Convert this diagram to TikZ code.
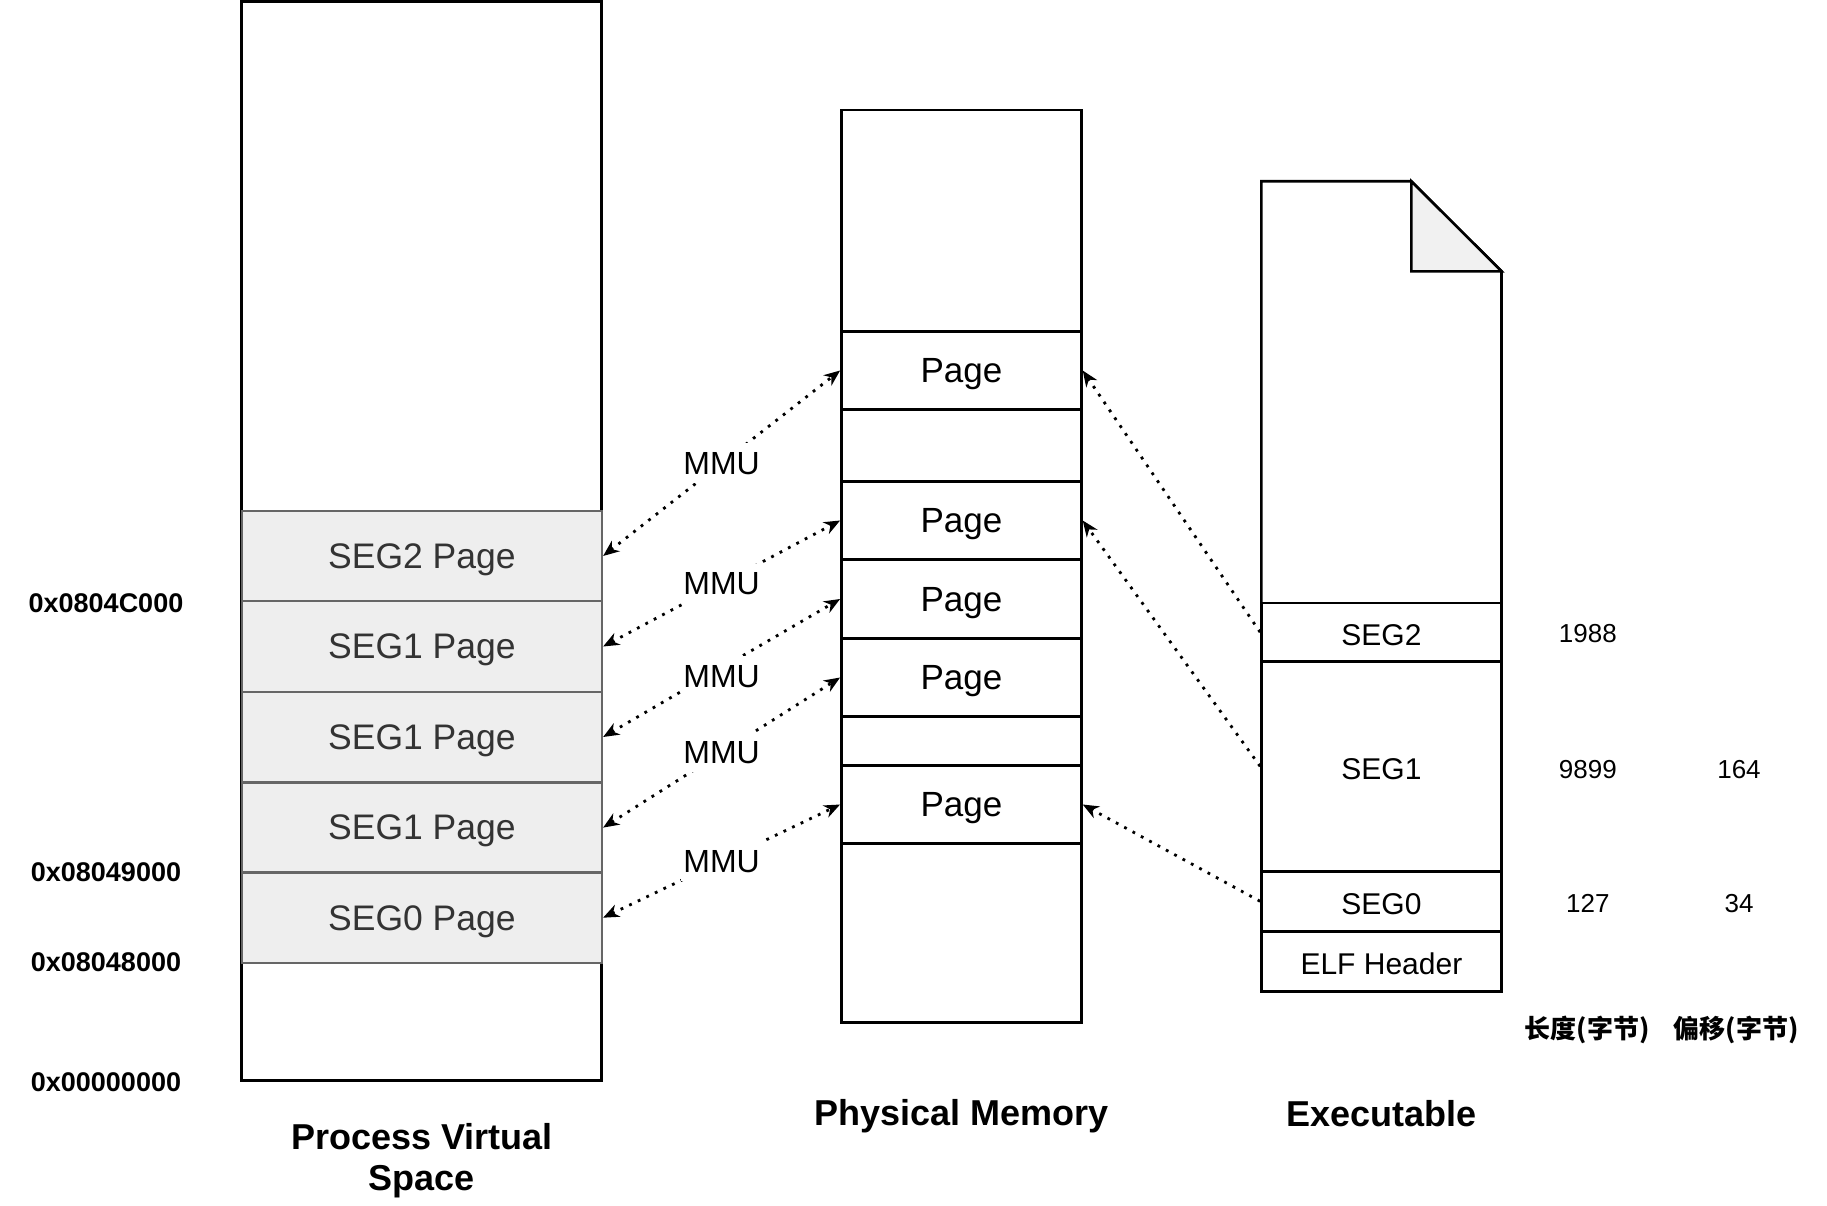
\documentclass[tikz,border=0pt]{standalone}
\usepackage{fontspec}
\setsansfont{Liberation Sans}
\newfontfamily\cjkfont{Noto Sans CJK SC}
\usetikzlibrary{arrows.meta}

\definecolor{vpageFill}{HTML}{EEEEEE}
\definecolor{vpageLine}{HTML}{666666}
\definecolor{vpageText}{HTML}{333333}
\definecolor{foldFill}{HTML}{F1F1F1}

\begin{document}
\begin{tikzpicture}[x=1pt, y=-1pt, font=\sffamily,
  >={Stealth[length=16pt, width=13pt, inset=5pt]},
  box/.style={draw, line width=2.6pt, inner sep=0pt, minimum width=240pt},
  vpage/.style={draw=vpageLine, fill=vpageFill, text=vpageText, line width=2.4pt, inner sep=0pt,
    minimum width=360pt, minimum height=90.5pt, font=\sffamily\fontsize{35.5}{42}\selectfont,
    text height=32.1pt, text depth=7.5pt},
  ppage/.style={box, minimum height=78.5pt, font=\sffamily\fontsize{35}{42}\selectfont,
    text height=31.7pt, text depth=7.4pt},
  eseg/.style={box, font=\sffamily\fontsize{30}{36}\selectfont, text height=33pt, text depth=6.4pt},
  addr/.style={font=\sffamily\bfseries\fontsize{27}{32}\selectfont, text height=24.4pt, text depth=5.7pt},
  coltitle/.style={font=\sffamily\bfseries\fontsize{36}{41.5}\selectfont, align=center},
  num/.style={font=\sffamily\fontsize{26}{31}\selectfont, text height=23.5pt, text depth=5.5pt},
  colhead/.style={font=\cjkfont\bfseries\fontsize{26}{31}\selectfont},
  mmulink/.style={<->, line width=2.8pt, dash pattern=on 2.8pt off 6.7pt},
  loadlink/.style={->, line width=2.8pt, dash pattern=on 2.8pt off 6.7pt},
  mmulabel/.style={fill=white, inner sep=2pt, font=\sffamily\fontsize{32}{38}\selectfont,
    text height=29pt, text depth=6.8pt}]

\useasboundingbox (0,0) rectangle (1827,1206);

\begin{scope}
\node (vspace) at (421.9,541.4) [draw, line width=3pt, minimum width=360pt, minimum height=1079pt] {};
\node (seg2p) at (421.9,556)   [vpage] {SEG2 Page};
\node (seg1a) at (421.9,646.5) [vpage] {SEG1 Page};
\node (seg1b) at (421.9,737)   [vpage] {SEG1 Page};
\node (seg1c) at (421.9,827.6) [vpage] {SEG1 Page};
\node (seg0p) at (421.9,917.7) [vpage] {SEG0 Page};
\node at (106,602.7)  [addr] {0x0804C000};
\node at (106,872.6)  [addr] {0x08049000};
\node at (106,962.4)  [addr] {0x08048000};
\node at (106,1081.9) [addr] {0x00000000};
\node at (421.9,1160.5) [coltitle] {Process Virtual\\Space};
\end{scope}

\begin{scope}
\node (pmem) at (961.4,566.3) [box, minimum height=912.5pt] {};
\node (page1) at (961.4,370.5) [ppage] {Page};
\node (page2) at (961.4,520.5) [ppage] {Page};
\node (page3) at (961.4,599)   [ppage] {Page};
\node (page4) at (961.4,677.5) [ppage] {Page};
\node (page5) at (961.4,804.5) [ppage] {Page};
\node at (961.4,1116) [coltitle] {Physical Memory};
\end{scope}

\begin{scope}
\draw[line width=2.6pt] (1261.3,181.3) -- (1411.3,181.3) -- (1501.5,271.3) -- (1501.5,991.3) -- (1261.3,991.3) -- cycle;
\filldraw[fill=foldFill, line width=2.6pt] (1411.3,181.3) -- (1411.3,271.3) -- (1501.5,271.3) -- cycle;
\node (eseg2) at (1381.4,632.2) [eseg, minimum height=58.3pt] {SEG2};
\node (eseg1) at (1381.4,766.3) [eseg, minimum height=210pt]  {SEG1};
\node (eseg0) at (1381.4,901.3) [eseg, minimum height=60pt]   {SEG0};
\node (elf)   at (1381.4,961.3) [eseg, minimum height=60pt]   {ELF Header};
\node at (1381.4,1113.5) [coltitle] {Executable};
\node at (1587.8,633) [num] {1988};
\node at (1587.8,769) [num] {9899};
\node at (1739,769)   [num] {164};
\node at (1587.8,903) [num] {127};
\node at (1739,903)   [num] {34};
\node at (1587,1030)   [colhead] {长度(字节)};
\node at (1736,1030)   [colhead] {偏移(字节)};
\end{scope}

\begin{scope}
\draw[mmulink] (seg2p.east) -- node[mmulabel] {MMU} (page1.west);
\draw[mmulink] (seg1a.east) -- node[mmulabel] {MMU} (page2.west);
\draw[mmulink] (seg1b.east) -- node[mmulabel, yshift=-8pt] {MMU} (page3.west);
\draw[mmulink] (seg1c.east) -- node[mmulabel] {MMU} (page4.west);
\draw[mmulink] (seg0p.east) -- node[mmulabel] {MMU} (page5.west);
\draw[loadlink] (eseg2.west) -- (page1.east);
\draw[loadlink] (eseg1.west) -- (page2.east);
\draw[loadlink] (eseg0.west) -- (page5.east);
\end{scope}
\end{tikzpicture}
\end{document}
